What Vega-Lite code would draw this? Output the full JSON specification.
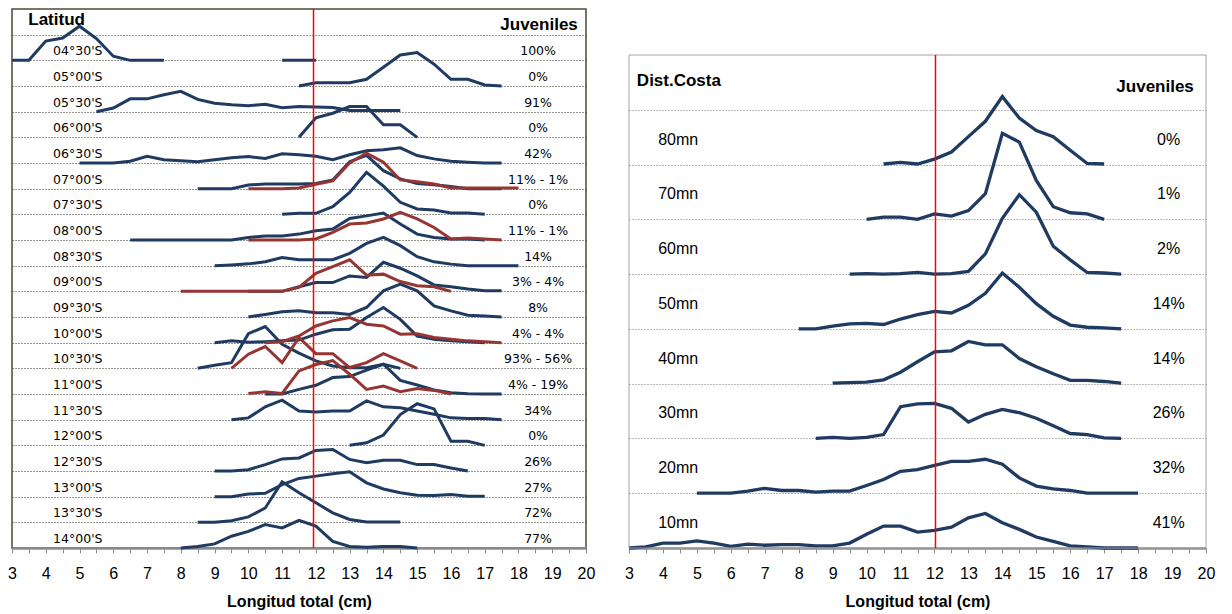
{
"$schema": "https://vega.github.io/schema/vega-lite/v6.json",
"background": "white",
"padding": {"left": 5, "top": 7, "right": 5, "bottom": 5},
"spacing": 43,
"bounds": "flush",
"config": {
 "view": {"stroke": null},
 "font": "Liberation Sans",
 "axisX": {"domainColor": "#8c8c8c", "domainWidth": 2.5, "tickColor": "#8c8c8c", "tickSize": 5, "tickWidth": 1, "labelFontSize": 16, "labelColor": "#000000", "labelPadding": 12, "labelFlush": false, "labelOverlap": false, "labelBound": false, "titleFontSize": 16, "titleFontWeight": "bold", "titleColor": "#000000", "titlePadding": 12, "grid": false, "zindex": 1}
},
"datasets": {
 "L": [
  {"s":"04°30'S","t":"b","x":3,"y":19},{"s":"04°30'S","t":"b","x":3.5,"y":19},{"s":"04°30'S","t":"b","x":4,"y":19.75},{"s":"04°30'S","t":"b","x":4.5,"y":19.87},{"s":"04°30'S","t":"b","x":5,"y":20.33},{"s":"04°30'S","t":"b","x":5.5,"y":19.85},{"s":"04°30'S","t":"b","x":6,"y":19.16},{"s":"04°30'S","t":"b","x":6.5,"y":19},{"s":"04°30'S","t":"b","x":7,"y":19},{"s":"04°30'S","t":"b","x":7.5,"y":19},
  {"s":"04°30'S-2","t":"b","x":11,"y":19},{"s":"04°30'S-2","t":"b","x":11.5,"y":19},{"s":"04°30'S-2","t":"b","x":12,"y":19},
  {"s":"05°00'S","t":"b","x":11.5,"y":18},{"s":"05°00'S","t":"b","x":12,"y":18.13},{"s":"05°00'S","t":"b","x":12.5,"y":18.13},{"s":"05°00'S","t":"b","x":13,"y":18.13},{"s":"05°00'S","t":"b","x":13.5,"y":18.26},{"s":"05°00'S","t":"b","x":14,"y":18.73},{"s":"05°00'S","t":"b","x":14.5,"y":19.21},{"s":"05°00'S","t":"b","x":15,"y":19.3},{"s":"05°00'S","t":"b","x":15.5,"y":18.85},{"s":"05°00'S","t":"b","x":16,"y":18.26},{"s":"05°00'S","t":"b","x":16.5,"y":18.26},{"s":"05°00'S","t":"b","x":17,"y":18.04},{"s":"05°00'S","t":"b","x":17.5,"y":18},
  {"s":"05°30'S","t":"b","x":5.5,"y":17},{"s":"05°30'S","t":"b","x":6,"y":17.14},{"s":"05°30'S","t":"b","x":6.5,"y":17.5},{"s":"05°30'S","t":"b","x":7,"y":17.5},{"s":"05°30'S","t":"b","x":7.5,"y":17.66},{"s":"05°30'S","t":"b","x":8,"y":17.79},{"s":"05°30'S","t":"b","x":8.5,"y":17.48},{"s":"05°30'S","t":"b","x":9,"y":17.33},{"s":"05°30'S","t":"b","x":9.5,"y":17.27},{"s":"05°30'S","t":"b","x":10,"y":17.23},{"s":"05°30'S","t":"b","x":10.5,"y":17.29},{"s":"05°30'S","t":"b","x":11,"y":17.15},{"s":"05°30'S","t":"b","x":11.5,"y":17.2},{"s":"05°30'S","t":"b","x":12,"y":17.18},{"s":"05°30'S","t":"b","x":12.5,"y":17.16},{"s":"05°30'S","t":"b","x":13,"y":17.05},{"s":"05°30'S","t":"b","x":13.5,"y":17.05},{"s":"05°30'S","t":"b","x":14,"y":17.05},{"s":"05°30'S","t":"b","x":14.5,"y":17.05},
  {"s":"06°00'S","t":"b","x":11.5,"y":16},{"s":"06°00'S","t":"b","x":12,"y":16.76},{"s":"06°00'S","t":"b","x":12.5,"y":16.94},{"s":"06°00'S","t":"b","x":13,"y":17.2},{"s":"06°00'S","t":"b","x":13.5,"y":17.2},{"s":"06°00'S","t":"b","x":14,"y":16.49},{"s":"06°00'S","t":"b","x":14.5,"y":16.49},{"s":"06°00'S","t":"b","x":15,"y":16},
  {"s":"06°30'S","t":"b","x":5,"y":15},{"s":"06°30'S","t":"b","x":5.5,"y":15},{"s":"06°30'S","t":"b","x":6,"y":15},{"s":"06°30'S","t":"b","x":6.5,"y":15.07},{"s":"06°30'S","t":"b","x":7,"y":15.26},{"s":"06°30'S","t":"b","x":7.5,"y":15.13},{"s":"06°30'S","t":"b","x":8,"y":15.09},{"s":"06°30'S","t":"b","x":8.5,"y":15.05},{"s":"06°30'S","t":"b","x":9,"y":15.13},{"s":"06°30'S","t":"b","x":9.5,"y":15.2},{"s":"06°30'S","t":"b","x":10,"y":15.25},{"s":"06°30'S","t":"b","x":10.5,"y":15.18},{"s":"06°30'S","t":"b","x":11,"y":15.36},{"s":"06°30'S","t":"b","x":11.5,"y":15.32},{"s":"06°30'S","t":"b","x":12,"y":15.26},{"s":"06°30'S","t":"b","x":12.5,"y":15.13},{"s":"06°30'S","t":"b","x":13,"y":15.32},{"s":"06°30'S","t":"b","x":13.5,"y":15.48},{"s":"06°30'S","t":"b","x":14,"y":15.52},{"s":"06°30'S","t":"b","x":14.5,"y":15.59},{"s":"06°30'S","t":"b","x":15,"y":15.29},{"s":"06°30'S","t":"b","x":15.5,"y":15.16},{"s":"06°30'S","t":"b","x":16,"y":15.07},{"s":"06°30'S","t":"b","x":16.5,"y":15.03},{"s":"06°30'S","t":"b","x":17,"y":15},{"s":"06°30'S","t":"b","x":17.5,"y":15},
  {"s":"07°00'S","t":"b","x":8.5,"y":14},{"s":"07°00'S","t":"b","x":9,"y":14},{"s":"07°00'S","t":"b","x":9.5,"y":14},{"s":"07°00'S","t":"b","x":10,"y":14.14},{"s":"07°00'S","t":"b","x":10.5,"y":14.18},{"s":"07°00'S","t":"b","x":11,"y":14.18},{"s":"07°00'S","t":"b","x":11.5,"y":14.18},{"s":"07°00'S","t":"b","x":12,"y":14.2},{"s":"07°00'S","t":"b","x":12.5,"y":14.34},{"s":"07°00'S","t":"b","x":13,"y":15.05},{"s":"07°00'S","t":"b","x":13.5,"y":15.3},{"s":"07°00'S","t":"b","x":14,"y":14.7},{"s":"07°00'S","t":"b","x":14.5,"y":14.38},{"s":"07°00'S","t":"b","x":15,"y":14.2},{"s":"07°00'S","t":"b","x":15.5,"y":14.15},{"s":"07°00'S","t":"b","x":16,"y":14.08},{"s":"07°00'S","t":"b","x":16.5,"y":14},{"s":"07°00'S","t":"b","x":17,"y":14},{"s":"07°00'S","t":"b","x":17.5,"y":14},
  {"s":"07°30'S","t":"b","x":11,"y":13},{"s":"07°30'S","t":"b","x":11.5,"y":13.04},{"s":"07°30'S","t":"b","x":12,"y":13.04},{"s":"07°30'S","t":"b","x":12.5,"y":13.3},{"s":"07°30'S","t":"b","x":13,"y":13.85},{"s":"07°30'S","t":"b","x":13.5,"y":14.64},{"s":"07°30'S","t":"b","x":14,"y":14.1},{"s":"07°30'S","t":"b","x":14.5,"y":13.47},{"s":"07°30'S","t":"b","x":15,"y":13.21},{"s":"07°30'S","t":"b","x":15.5,"y":13.17},{"s":"07°30'S","t":"b","x":16,"y":13.05},{"s":"07°30'S","t":"b","x":16.5,"y":13.05},{"s":"07°30'S","t":"b","x":17,"y":13},
  {"s":"08°00'S","t":"b","x":6.5,"y":12},{"s":"08°00'S","t":"b","x":7,"y":12},{"s":"08°00'S","t":"b","x":7.5,"y":12},{"s":"08°00'S","t":"b","x":8,"y":12},{"s":"08°00'S","t":"b","x":8.5,"y":12},{"s":"08°00'S","t":"b","x":9,"y":12},{"s":"08°00'S","t":"b","x":9.5,"y":12},{"s":"08°00'S","t":"b","x":10,"y":12.1},{"s":"08°00'S","t":"b","x":10.5,"y":12.16},{"s":"08°00'S","t":"b","x":11,"y":12.16},{"s":"08°00'S","t":"b","x":11.5,"y":12.23},{"s":"08°00'S","t":"b","x":12,"y":12.36},{"s":"08°00'S","t":"b","x":12.5,"y":12.43},{"s":"08°00'S","t":"b","x":13,"y":12.84},{"s":"08°00'S","t":"b","x":13.5,"y":12.94},{"s":"08°00'S","t":"b","x":14,"y":13.05},{"s":"08°00'S","t":"b","x":14.5,"y":12.62},{"s":"08°00'S","t":"b","x":15,"y":12.23},{"s":"08°00'S","t":"b","x":15.5,"y":12.1},{"s":"08°00'S","t":"b","x":16,"y":12.04},{"s":"08°00'S","t":"b","x":16.5,"y":12.04},{"s":"08°00'S","t":"b","x":17,"y":12},
  {"s":"08°30'S","t":"b","x":9,"y":11},{"s":"08°30'S","t":"b","x":9.5,"y":11.03},{"s":"08°30'S","t":"b","x":10,"y":11.07},{"s":"08°30'S","t":"b","x":10.5,"y":11.15},{"s":"08°30'S","t":"b","x":11,"y":11.32},{"s":"08°30'S","t":"b","x":11.5,"y":11.23},{"s":"08°30'S","t":"b","x":12,"y":11.23},{"s":"08°30'S","t":"b","x":12.5,"y":11.23},{"s":"08°30'S","t":"b","x":13,"y":11.48},{"s":"08°30'S","t":"b","x":13.5,"y":11.87},{"s":"08°30'S","t":"b","x":14,"y":12.1},{"s":"08°30'S","t":"b","x":14.5,"y":11.78},{"s":"08°30'S","t":"b","x":15,"y":11.35},{"s":"08°30'S","t":"b","x":15.5,"y":11.15},{"s":"08°30'S","t":"b","x":16,"y":11.06},{"s":"08°30'S","t":"b","x":16.5,"y":11},{"s":"08°30'S","t":"b","x":17,"y":11},{"s":"08°30'S","t":"b","x":17.5,"y":11},{"s":"08°30'S","t":"b","x":18,"y":11},
  {"s":"09°00'S","t":"b","x":10,"y":10},{"s":"09°00'S","t":"b","x":10.5,"y":10},{"s":"09°00'S","t":"b","x":11,"y":10},{"s":"09°00'S","t":"b","x":11.5,"y":10.18},{"s":"09°00'S","t":"b","x":12,"y":10.34},{"s":"09°00'S","t":"b","x":12.5,"y":10.34},{"s":"09°00'S","t":"b","x":13,"y":10.6},{"s":"09°00'S","t":"b","x":13.5,"y":10.54},{"s":"09°00'S","t":"b","x":14,"y":11.13},{"s":"09°00'S","t":"b","x":14.5,"y":10.9},{"s":"09°00'S","t":"b","x":15,"y":10.6},{"s":"09°00'S","t":"b","x":15.5,"y":10.25},{"s":"09°00'S","t":"b","x":16,"y":10.18},{"s":"09°00'S","t":"b","x":16.5,"y":10.09},{"s":"09°00'S","t":"b","x":17,"y":10.02},{"s":"09°00'S","t":"b","x":17.5,"y":10.02},
  {"s":"09°30'S","t":"b","x":10,"y":9},{"s":"09°30'S","t":"b","x":10.5,"y":9.1},{"s":"09°30'S","t":"b","x":11,"y":9.2},{"s":"09°30'S","t":"b","x":11.5,"y":9.24},{"s":"09°30'S","t":"b","x":12,"y":9.17},{"s":"09°30'S","t":"b","x":12.5,"y":9.17},{"s":"09°30'S","t":"b","x":13,"y":9.1},{"s":"09°30'S","t":"b","x":13.5,"y":9.37},{"s":"09°30'S","t":"b","x":14,"y":10.02},{"s":"09°30'S","t":"b","x":14.5,"y":10.28},{"s":"09°30'S","t":"b","x":15,"y":10.02},{"s":"09°30'S","t":"b","x":15.5,"y":9.43},{"s":"09°30'S","t":"b","x":16,"y":9.24},{"s":"09°30'S","t":"b","x":16.5,"y":9.07},{"s":"09°30'S","t":"b","x":17,"y":9.04},{"s":"09°30'S","t":"b","x":17.5,"y":9},
  {"s":"10°00'S","t":"b","x":9,"y":8},{"s":"10°00'S","t":"b","x":9.5,"y":8.07},{"s":"10°00'S","t":"b","x":10,"y":8.02},{"s":"10°00'S","t":"b","x":10.5,"y":8.04},{"s":"10°00'S","t":"b","x":11,"y":8.07},{"s":"10°00'S","t":"b","x":11.5,"y":8.1},{"s":"10°00'S","t":"b","x":12,"y":8.33},{"s":"10°00'S","t":"b","x":12.5,"y":8.5},{"s":"10°00'S","t":"b","x":13,"y":8.52},{"s":"10°00'S","t":"b","x":13.5,"y":8.98},{"s":"10°00'S","t":"b","x":14,"y":9.37},{"s":"10°00'S","t":"b","x":14.5,"y":8.91},{"s":"10°00'S","t":"b","x":15,"y":8.26},{"s":"10°00'S","t":"b","x":15.5,"y":8.13},{"s":"10°00'S","t":"b","x":16,"y":8.07},{"s":"10°00'S","t":"b","x":16.5,"y":8.04},{"s":"10°00'S","t":"b","x":17,"y":8},
  {"s":"10°30'S","t":"b","x":8.5,"y":7},{"s":"10°30'S","t":"b","x":9,"y":7.12},{"s":"10°30'S","t":"b","x":9.5,"y":7.22},{"s":"10°30'S","t":"b","x":10,"y":8.35},{"s":"10°30'S","t":"b","x":10.5,"y":8.63},{"s":"10°30'S","t":"b","x":11,"y":7.94},{"s":"10°30'S","t":"b","x":11.5,"y":7.59},{"s":"10°30'S","t":"b","x":12,"y":7.29},{"s":"10°30'S","t":"b","x":12.5,"y":7.09},{"s":"10°30'S","t":"b","x":13,"y":7.02},{"s":"10°30'S","t":"b","x":13.5,"y":7.02},{"s":"10°30'S","t":"b","x":14,"y":7.16},{"s":"10°30'S","t":"b","x":14.5,"y":7},
  {"s":"11°00'S","t":"b","x":10.5,"y":6},{"s":"11°00'S","t":"b","x":11,"y":6},{"s":"11°00'S","t":"b","x":11.5,"y":6.18},{"s":"11°00'S","t":"b","x":12,"y":6.34},{"s":"11°00'S","t":"b","x":12.5,"y":6.64},{"s":"11°00'S","t":"b","x":13,"y":6.68},{"s":"11°00'S","t":"b","x":13.5,"y":6.93},{"s":"11°00'S","t":"b","x":14,"y":7.16},{"s":"11°00'S","t":"b","x":14.5,"y":6.53},{"s":"11°00'S","t":"b","x":15,"y":6.35},{"s":"11°00'S","t":"b","x":15.5,"y":6.16},{"s":"11°00'S","t":"b","x":16,"y":6.05},{"s":"11°00'S","t":"b","x":16.5,"y":6.01},{"s":"11°00'S","t":"b","x":17,"y":6},{"s":"11°00'S","t":"b","x":17.5,"y":6},
  {"s":"11°30'S","t":"b","x":9.5,"y":5},{"s":"11°30'S","t":"b","x":10,"y":5.07},{"s":"11°30'S","t":"b","x":10.5,"y":5.5},{"s":"11°30'S","t":"b","x":11,"y":5.76},{"s":"11°30'S","t":"b","x":11.5,"y":5.34},{"s":"11°30'S","t":"b","x":12,"y":5.3},{"s":"11°30'S","t":"b","x":12.5,"y":5.34},{"s":"11°30'S","t":"b","x":13,"y":5.34},{"s":"11°30'S","t":"b","x":13.5,"y":5.73},{"s":"11°30'S","t":"b","x":14,"y":5.5},{"s":"11°30'S","t":"b","x":14.5,"y":5.46},{"s":"11°30'S","t":"b","x":15,"y":5.34},{"s":"11°30'S","t":"b","x":15.5,"y":5.21},{"s":"11°30'S","t":"b","x":16,"y":5.07},{"s":"11°30'S","t":"b","x":16.5,"y":5.05},{"s":"11°30'S","t":"b","x":17,"y":5.05},{"s":"11°30'S","t":"b","x":17.5,"y":5},
  {"s":"12°00'S","t":"b","x":13,"y":4},{"s":"12°00'S","t":"b","x":13.5,"y":4.1},{"s":"12°00'S","t":"b","x":14,"y":4.4},{"s":"12°00'S","t":"b","x":14.5,"y":5.2},{"s":"12°00'S","t":"b","x":15,"y":5.62},{"s":"12°00'S","t":"b","x":15.5,"y":5.42},{"s":"12°00'S","t":"b","x":16,"y":4.16},{"s":"12°00'S","t":"b","x":16.5,"y":4.16},{"s":"12°00'S","t":"b","x":17,"y":4},
  {"s":"12°30'S","t":"b","x":9,"y":3},{"s":"12°30'S","t":"b","x":9.5,"y":3},{"s":"12°30'S","t":"b","x":10,"y":3.05},{"s":"12°30'S","t":"b","x":10.5,"y":3.25},{"s":"12°30'S","t":"b","x":11,"y":3.47},{"s":"12°30'S","t":"b","x":11.5,"y":3.51},{"s":"12°30'S","t":"b","x":12,"y":3.8},{"s":"12°30'S","t":"b","x":12.5,"y":3.84},{"s":"12°30'S","t":"b","x":13,"y":3.45},{"s":"12°30'S","t":"b","x":13.5,"y":3.32},{"s":"12°30'S","t":"b","x":14,"y":3.42},{"s":"12°30'S","t":"b","x":14.5,"y":3.42},{"s":"12°30'S","t":"b","x":15,"y":3.25},{"s":"12°30'S","t":"b","x":15.5,"y":3.25},{"s":"12°30'S","t":"b","x":16,"y":3.12},{"s":"12°30'S","t":"b","x":16.5,"y":3},
  {"s":"13°00'S","t":"b","x":9,"y":2},{"s":"13°00'S","t":"b","x":9.5,"y":2},{"s":"13°00'S","t":"b","x":10,"y":2.1},{"s":"13°00'S","t":"b","x":10.5,"y":2.13},{"s":"13°00'S","t":"b","x":11,"y":2.47},{"s":"13°00'S","t":"b","x":11.5,"y":2.71},{"s":"13°00'S","t":"b","x":12,"y":2.8},{"s":"13°00'S","t":"b","x":12.5,"y":2.89},{"s":"13°00'S","t":"b","x":13,"y":2.97},{"s":"13°00'S","t":"b","x":13.5,"y":2.54},{"s":"13°00'S","t":"b","x":14,"y":2.3},{"s":"13°00'S","t":"b","x":14.5,"y":2.15},{"s":"13°00'S","t":"b","x":15,"y":2.06},{"s":"13°00'S","t":"b","x":15.5,"y":2.05},{"s":"13°00'S","t":"b","x":16,"y":2.08},{"s":"13°00'S","t":"b","x":16.5,"y":2.02},{"s":"13°00'S","t":"b","x":17,"y":2.02},
  {"s":"13°30'S","t":"b","x":8.5,"y":1},{"s":"13°30'S","t":"b","x":9,"y":1},{"s":"13°30'S","t":"b","x":9.5,"y":1.06},{"s":"13°30'S","t":"b","x":10,"y":1.21},{"s":"13°30'S","t":"b","x":10.5,"y":1.56},{"s":"13°30'S","t":"b","x":11,"y":2.58},{"s":"13°30'S","t":"b","x":11.5,"y":2.15},{"s":"13°30'S","t":"b","x":12,"y":1.76},{"s":"13°30'S","t":"b","x":12.5,"y":1.37},{"s":"13°30'S","t":"b","x":13,"y":1.11},{"s":"13°30'S","t":"b","x":13.5,"y":1.01},{"s":"13°30'S","t":"b","x":14,"y":1.01},{"s":"13°30'S","t":"b","x":14.5,"y":1.01},
  {"s":"14°00'S","t":"b","x":8,"y":0},{"s":"14°00'S","t":"b","x":8.5,"y":0.06},{"s":"14°00'S","t":"b","x":9,"y":0.16},{"s":"14°00'S","t":"b","x":9.5,"y":0.46},{"s":"14°00'S","t":"b","x":10,"y":0.65},{"s":"14°00'S","t":"b","x":10.5,"y":0.91},{"s":"14°00'S","t":"b","x":11,"y":0.78},{"s":"14°00'S","t":"b","x":11.5,"y":1.08},{"s":"14°00'S","t":"b","x":12,"y":0.85},{"s":"14°00'S","t":"b","x":12.5,"y":0.26},{"s":"14°00'S","t":"b","x":13,"y":0.06},{"s":"14°00'S","t":"b","x":13.5,"y":0.03},{"s":"14°00'S","t":"b","x":14,"y":0.06},{"s":"14°00'S","t":"b","x":14.5,"y":0.06},{"s":"14°00'S","t":"b","x":15,"y":0},
  {"s":"07°00'S-r","t":"r","x":10,"y":14},{"s":"07°00'S-r","t":"r","x":10.5,"y":14},{"s":"07°00'S-r","t":"r","x":11,"y":14},{"s":"07°00'S-r","t":"r","x":11.5,"y":14.03},{"s":"07°00'S-r","t":"r","x":12,"y":14.17},{"s":"07°00'S-r","t":"r","x":12.5,"y":14.3},{"s":"07°00'S-r","t":"r","x":13,"y":15},{"s":"07°00'S-r","t":"r","x":13.5,"y":15.38},{"s":"07°00'S-r","t":"r","x":14,"y":15.03},{"s":"07°00'S-r","t":"r","x":14.5,"y":14.34},{"s":"07°00'S-r","t":"r","x":15,"y":14.27},{"s":"07°00'S-r","t":"r","x":15.5,"y":14.18},{"s":"07°00'S-r","t":"r","x":16,"y":14.03},{"s":"07°00'S-r","t":"r","x":16.5,"y":14.03},{"s":"07°00'S-r","t":"r","x":17,"y":14.03},{"s":"07°00'S-r","t":"r","x":17.5,"y":14.03},{"s":"07°00'S-r","t":"r","x":18,"y":14.03},
  {"s":"08°00'S-r","t":"r","x":10,"y":12},{"s":"08°00'S-r","t":"r","x":10.5,"y":12},{"s":"08°00'S-r","t":"r","x":11,"y":12},{"s":"08°00'S-r","t":"r","x":11.5,"y":12},{"s":"08°00'S-r","t":"r","x":12,"y":12.04},{"s":"08°00'S-r","t":"r","x":12.5,"y":12.3},{"s":"08°00'S-r","t":"r","x":13,"y":12.62},{"s":"08°00'S-r","t":"r","x":13.5,"y":12.66},{"s":"08°00'S-r","t":"r","x":14,"y":12.82},{"s":"08°00'S-r","t":"r","x":14.5,"y":13.08},{"s":"08°00'S-r","t":"r","x":15,"y":12.82},{"s":"08°00'S-r","t":"r","x":15.5,"y":12.49},{"s":"08°00'S-r","t":"r","x":16,"y":12.04},{"s":"08°00'S-r","t":"r","x":16.5,"y":12.08},{"s":"08°00'S-r","t":"r","x":17,"y":12.04},{"s":"08°00'S-r","t":"r","x":17.5,"y":12},
  {"s":"09°00'S-r","t":"r","x":8,"y":10},{"s":"09°00'S-r","t":"r","x":8.5,"y":10},{"s":"09°00'S-r","t":"r","x":9,"y":10},{"s":"09°00'S-r","t":"r","x":9.5,"y":10},{"s":"09°00'S-r","t":"r","x":10,"y":10},{"s":"09°00'S-r","t":"r","x":10.5,"y":10},{"s":"09°00'S-r","t":"r","x":11,"y":10},{"s":"09°00'S-r","t":"r","x":11.5,"y":10.15},{"s":"09°00'S-r","t":"r","x":12,"y":10.7},{"s":"09°00'S-r","t":"r","x":12.5,"y":10.96},{"s":"09°00'S-r","t":"r","x":13,"y":11.23},{"s":"09°00'S-r","t":"r","x":13.5,"y":10.63},{"s":"09°00'S-r","t":"r","x":14,"y":10.67},{"s":"09°00'S-r","t":"r","x":14.5,"y":10.38},{"s":"09°00'S-r","t":"r","x":15,"y":10.22},{"s":"09°00'S-r","t":"r","x":15.5,"y":10.18},{"s":"09°00'S-r","t":"r","x":16,"y":10},
  {"s":"10°00'S-r","t":"r","x":10.5,"y":8},{"s":"10°00'S-r","t":"r","x":11,"y":8.04},{"s":"10°00'S-r","t":"r","x":11.5,"y":8.26},{"s":"10°00'S-r","t":"r","x":12,"y":8.65},{"s":"10°00'S-r","t":"r","x":12.5,"y":8.85},{"s":"10°00'S-r","t":"r","x":13,"y":8.98},{"s":"10°00'S-r","t":"r","x":13.5,"y":8.72},{"s":"10°00'S-r","t":"r","x":14,"y":8.65},{"s":"10°00'S-r","t":"r","x":14.5,"y":8.33},{"s":"10°00'S-r","t":"r","x":15,"y":8.35},{"s":"10°00'S-r","t":"r","x":15.5,"y":8.2},{"s":"10°00'S-r","t":"r","x":16,"y":8.13},{"s":"10°00'S-r","t":"r","x":16.5,"y":8.07},{"s":"10°00'S-r","t":"r","x":17,"y":8.04},{"s":"10°00'S-r","t":"r","x":17.5,"y":8},
  {"s":"10°30'S-r","t":"r","x":9.5,"y":7},{"s":"10°30'S-r","t":"r","x":10,"y":7.55},{"s":"10°30'S-r","t":"r","x":10.5,"y":7.85},{"s":"10°30'S-r","t":"r","x":11,"y":7.22},{"s":"10°30'S-r","t":"r","x":11.5,"y":8.2},{"s":"10°30'S-r","t":"r","x":12,"y":7.57},{"s":"10°30'S-r","t":"r","x":12.5,"y":7.57},{"s":"10°30'S-r","t":"r","x":13,"y":7.03},{"s":"10°30'S-r","t":"r","x":13.5,"y":7.22},{"s":"10°30'S-r","t":"r","x":14,"y":7.57},{"s":"10°30'S-r","t":"r","x":14.5,"y":7.29},{"s":"10°30'S-r","t":"r","x":15,"y":7},
  {"s":"11°00'S-r","t":"r","x":10,"y":6.02},{"s":"11°00'S-r","t":"r","x":10.5,"y":6.09},{"s":"11°00'S-r","t":"r","x":11,"y":6.02},{"s":"11°00'S-r","t":"r","x":11.5,"y":6.9},{"s":"11°00'S-r","t":"r","x":12,"y":7.15},{"s":"11°00'S-r","t":"r","x":12.5,"y":7.3},{"s":"11°00'S-r","t":"r","x":13,"y":6.77},{"s":"11°00'S-r","t":"r","x":13.5,"y":6.18},{"s":"11°00'S-r","t":"r","x":14,"y":6.31},{"s":"11°00'S-r","t":"r","x":14.5,"y":6.09},{"s":"11°00'S-r","t":"r","x":15,"y":6.21},{"s":"11°00'S-r","t":"r","x":15.5,"y":6.14},{"s":"11°00'S-r","t":"r","x":16,"y":6}
 ],
 "LL": [
  {"row":19,"lab":"04°30'S","juv":"100%"},{"row":18,"lab":"05°00'S","juv":"0%"},{"row":17,"lab":"05°30'S","juv":"91%"},{"row":16,"lab":"06°00'S","juv":"0%"},{"row":15,"lab":"06°30'S","juv":"42%"},{"row":14,"lab":"07°00'S","juv":"11% - 1%"},{"row":13,"lab":"07°30'S","juv":"0%"},{"row":12,"lab":"08°00'S","juv":"11% - 1%"},{"row":11,"lab":"08°30'S","juv":"14%"},{"row":10,"lab":"09°00'S","juv":"3% - 4%"},{"row":9,"lab":"09°30'S","juv":"8%"},{"row":8,"lab":"10°00'S","juv":"4% - 4%"},{"row":7,"lab":"10°30'S","juv":"93% - 56%"},{"row":6,"lab":"11°00'S","juv":"4% - 19%"},{"row":5,"lab":"11°30'S","juv":"34%"},{"row":4,"lab":"12°00'S","juv":"0%"},{"row":3,"lab":"12°30'S","juv":"26%"},{"row":2,"lab":"13°00'S","juv":"27%"},{"row":1,"lab":"13°30'S","juv":"72%"},{"row":0,"lab":"14°00'S","juv":"77%"}
 ],
 "R": [
  {"s":"80mn","x":10.5,"y":7.01},{"s":"80mn","x":11,"y":7.04},{"s":"80mn","x":11.5,"y":7.01},{"s":"80mn","x":12,"y":7.1},{"s":"80mn","x":12.5,"y":7.23},{"s":"80mn","x":13,"y":7.51},{"s":"80mn","x":13.5,"y":7.79},{"s":"80mn","x":14,"y":8.24},{"s":"80mn","x":14.5,"y":7.85},{"s":"80mn","x":15,"y":7.62},{"s":"80mn","x":15.5,"y":7.51},{"s":"80mn","x":16,"y":7.26},{"s":"80mn","x":16.5,"y":7.02},{"s":"80mn","x":17,"y":7.01},
  {"s":"70mn","x":10,"y":6},{"s":"70mn","x":10.5,"y":6.04},{"s":"70mn","x":11,"y":6.04},{"s":"70mn","x":11.5,"y":6},{"s":"70mn","x":12,"y":6.1},{"s":"70mn","x":12.5,"y":6.06},{"s":"70mn","x":13,"y":6.16},{"s":"70mn","x":13.5,"y":6.47},{"s":"70mn","x":14,"y":7.57},{"s":"70mn","x":14.5,"y":7.41},{"s":"70mn","x":15,"y":6.71},{"s":"70mn","x":15.5,"y":6.23},{"s":"70mn","x":16,"y":6.12},{"s":"70mn","x":16.5,"y":6.1},{"s":"70mn","x":17,"y":6},
  {"s":"60mn","x":9.5,"y":5},{"s":"60mn","x":10,"y":5.01},{"s":"60mn","x":10.5,"y":5},{"s":"60mn","x":11,"y":5.01},{"s":"60mn","x":11.5,"y":5.03},{"s":"60mn","x":12,"y":5},{"s":"60mn","x":12.5,"y":5.01},{"s":"60mn","x":13,"y":5.05},{"s":"60mn","x":13.5,"y":5.37},{"s":"60mn","x":14,"y":6.02},{"s":"60mn","x":14.5,"y":6.45},{"s":"60mn","x":15,"y":6.13},{"s":"60mn","x":15.5,"y":5.51},{"s":"60mn","x":16,"y":5.26},{"s":"60mn","x":16.5,"y":5.03},{"s":"60mn","x":17,"y":5.02},{"s":"60mn","x":17.5,"y":5},
  {"s":"50mn","x":8,"y":4},{"s":"50mn","x":8.5,"y":4},{"s":"50mn","x":9,"y":4.05},{"s":"50mn","x":9.5,"y":4.09},{"s":"50mn","x":10,"y":4.1},{"s":"50mn","x":10.5,"y":4.08},{"s":"50mn","x":11,"y":4.18},{"s":"50mn","x":11.5,"y":4.26},{"s":"50mn","x":12,"y":4.32},{"s":"50mn","x":12.5,"y":4.29},{"s":"50mn","x":13,"y":4.43},{"s":"50mn","x":13.5,"y":4.65},{"s":"50mn","x":14,"y":5.02},{"s":"50mn","x":14.5,"y":4.76},{"s":"50mn","x":15,"y":4.46},{"s":"50mn","x":15.5,"y":4.23},{"s":"50mn","x":16,"y":4.07},{"s":"50mn","x":16.5,"y":4.03},{"s":"50mn","x":17,"y":4.02},{"s":"50mn","x":17.5,"y":4},
  {"s":"40mn","x":9,"y":3.01},{"s":"40mn","x":9.5,"y":3.02},{"s":"40mn","x":10,"y":3.03},{"s":"40mn","x":10.5,"y":3.07},{"s":"40mn","x":11,"y":3.21},{"s":"40mn","x":11.5,"y":3.4},{"s":"40mn","x":12,"y":3.58},{"s":"40mn","x":12.5,"y":3.6},{"s":"40mn","x":13,"y":3.77},{"s":"40mn","x":13.5,"y":3.71},{"s":"40mn","x":14,"y":3.71},{"s":"40mn","x":14.5,"y":3.46},{"s":"40mn","x":15,"y":3.31},{"s":"40mn","x":15.5,"y":3.18},{"s":"40mn","x":16,"y":3.06},{"s":"40mn","x":16.5,"y":3.06},{"s":"40mn","x":17,"y":3.04},{"s":"40mn","x":17.5,"y":3.01},
  {"s":"30mn","x":8.5,"y":2},{"s":"30mn","x":9,"y":2.02},{"s":"30mn","x":9.5,"y":2},{"s":"30mn","x":10,"y":2.02},{"s":"30mn","x":10.5,"y":2.07},{"s":"30mn","x":11,"y":2.58},{"s":"30mn","x":11.5,"y":2.63},{"s":"30mn","x":12,"y":2.64},{"s":"30mn","x":12.5,"y":2.55},{"s":"30mn","x":13,"y":2.3},{"s":"30mn","x":13.5,"y":2.44},{"s":"30mn","x":14,"y":2.53},{"s":"30mn","x":14.5,"y":2.47},{"s":"30mn","x":15,"y":2.37},{"s":"30mn","x":15.5,"y":2.23},{"s":"30mn","x":16,"y":2.09},{"s":"30mn","x":16.5,"y":2.07},{"s":"30mn","x":17,"y":2.01},{"s":"30mn","x":17.5,"y":2},
  {"s":"20mn","x":5,"y":1},{"s":"20mn","x":5.5,"y":1},{"s":"20mn","x":6,"y":1},{"s":"20mn","x":6.5,"y":1.04},{"s":"20mn","x":7,"y":1.09},{"s":"20mn","x":7.5,"y":1.05},{"s":"20mn","x":8,"y":1.05},{"s":"20mn","x":8.5,"y":1.02},{"s":"20mn","x":9,"y":1.04},{"s":"20mn","x":9.5,"y":1.04},{"s":"20mn","x":10,"y":1.14},{"s":"20mn","x":10.5,"y":1.25},{"s":"20mn","x":11,"y":1.4},{"s":"20mn","x":11.5,"y":1.43},{"s":"20mn","x":12,"y":1.51},{"s":"20mn","x":12.5,"y":1.58},{"s":"20mn","x":13,"y":1.58},{"s":"20mn","x":13.5,"y":1.62},{"s":"20mn","x":14,"y":1.53},{"s":"20mn","x":14.5,"y":1.28},{"s":"20mn","x":15,"y":1.13},{"s":"20mn","x":15.5,"y":1.08},{"s":"20mn","x":16,"y":1.05},{"s":"20mn","x":16.5,"y":1},{"s":"20mn","x":17,"y":1},{"s":"20mn","x":17.5,"y":1},{"s":"20mn","x":18,"y":1},
  {"s":"10mn","x":3,"y":0},{"s":"10mn","x":3.5,"y":0.02},{"s":"10mn","x":4,"y":0.09},{"s":"10mn","x":4.5,"y":0.09},{"s":"10mn","x":5,"y":0.13},{"s":"10mn","x":5.5,"y":0.09},{"s":"10mn","x":6,"y":0.03},{"s":"10mn","x":6.5,"y":0.07},{"s":"10mn","x":7,"y":0.05},{"s":"10mn","x":7.5,"y":0.06},{"s":"10mn","x":8,"y":0.06},{"s":"10mn","x":8.5,"y":0.04},{"s":"10mn","x":9,"y":0.04},{"s":"10mn","x":9.5,"y":0.09},{"s":"10mn","x":10,"y":0.25},{"s":"10mn","x":10.5,"y":0.4},{"s":"10mn","x":11,"y":0.4},{"s":"10mn","x":11.5,"y":0.29},{"s":"10mn","x":12,"y":0.32},{"s":"10mn","x":12.5,"y":0.38},{"s":"10mn","x":13,"y":0.55},{"s":"10mn","x":13.5,"y":0.63},{"s":"10mn","x":14,"y":0.46},{"s":"10mn","x":14.5,"y":0.34},{"s":"10mn","x":15,"y":0.2},{"s":"10mn","x":15.5,"y":0.12},{"s":"10mn","x":16,"y":0.04},{"s":"10mn","x":16.5,"y":0.02},{"s":"10mn","x":17,"y":0},{"s":"10mn","x":17.5,"y":0},{"s":"10mn","x":18,"y":0}
 ],
 "RL": [
  {"row":7,"lab":"80mn","juv":"0%"},{"row":6,"lab":"70mn","juv":"1%"},{"row":5,"lab":"60mn","juv":"2%"},{"row":4,"lab":"50mn","juv":"14%"},{"row":3,"lab":"40mn","juv":"14%"},{"row":2,"lab":"30mn","juv":"26%"},{"row":1,"lab":"20mn","juv":"32%"},{"row":0,"lab":"10mn","juv":"41%"}
 ]
},
"hconcat": [
 {
  "width": 574,
  "height": 539,
  "view": {"stroke": "#4f4b3a", "strokeWidth": 1.5},
  "layer": [
   {
    "data": {"name": "L"},
    "mark": {"type": "line", "strokeWidth": 3},
    "encoding": {
     "x": {"field": "x", "type": "quantitative", "scale": {"domain": [3, 20], "nice": false, "zero": false},
       "axis": {"title": "Longitud total (cm)", "values": [3,3.5,4,4.5,5,5.5,6,6.5,7,7.5,8,8.5,9,9.5,10,10.5,11,11.5,12,12.5,13,13.5,14,14.5,15,15.5,16,16.5,17,17.5,18,18.5,19,19.5,20], "labelExpr": "datum.value % 1 === 0 ? format(datum.value, 'd') : ''", "labelOverlap": false}},
     "y": {"field": "y", "type": "quantitative", "scale": {"domain": [0, 21], "nice": false, "zero": false},
       "axis": {"title": null, "grid": true, "values": [0,1,2,3,4,5,6,7,8,9,10,11,12,13,14,15,16,17,18,19,20], "gridColor": "#2e2c22", "gridDash": [1, 2], "gridWidth": 1, "labels": false, "ticks": false, "domain": false}},
     "color": {"field": "t", "type": "nominal", "scale": {"domain": ["b", "r"], "range": ["#1f3b61", "#963634"]}, "legend": null},
     "detail": {"field": "s"}
    }
   },
   {
    "data": {"values": [{}]},
    "mark": {"type": "rule", "stroke": "#ff0000", "strokeWidth": 1.5},
    "encoding": {
     "x": {"datum": 11.93, "type": "quantitative", "scale": {"domain": [3, 20], "nice": false, "zero": false},
       "axis": {"title": "Longitud total (cm)", "values": [3,3.5,4,4.5,5,5.5,6,6.5,7,7.5,8,8.5,9,9.5,10,10.5,11,11.5,12,12.5,13,13.5,14,14.5,15,15.5,16,16.5,17,17.5,18,18.5,19,19.5,20], "labelExpr": "datum.value % 1 === 0 ? format(datum.value, 'd') : ''", "labelOverlap": false}},
     "y": {"datum": 0, "type": "quantitative", "scale": {"domain": [0, 21], "nice": false, "zero": false},
       "axis": {"title": null, "grid": true, "values": [0,1,2,3,4,5,6,7,8,9,10,11,12,13,14,15,16,17,18,19,20], "gridColor": "#2e2c22", "gridDash": [1, 2], "gridWidth": 1, "labels": false, "ticks": false, "domain": false}},
     "y2": {"datum": 21}
    }
   },
   {
    "data": {"name": "LL"},
    "mark": {"type": "text", "font": "DejaVu Sans", "fontSize": 12.5, "baseline": "middle", "align": "center", "dy": -9, "color": "#000000"},
    "encoding": {
     "x": {"datum": 4.95, "type": "quantitative", "scale": {"domain": [3, 20], "nice": false, "zero": false},
       "axis": {"title": "Longitud total (cm)", "values": [3,3.5,4,4.5,5,5.5,6,6.5,7,7.5,8,8.5,9,9.5,10,10.5,11,11.5,12,12.5,13,13.5,14,14.5,15,15.5,16,16.5,17,17.5,18,18.5,19,19.5,20], "labelExpr": "datum.value % 1 === 0 ? format(datum.value, 'd') : ''", "labelOverlap": false}},
     "y": {"field": "row", "type": "quantitative", "scale": {"domain": [0, 21], "nice": false, "zero": false},
       "axis": {"title": null, "grid": true, "values": [0,1,2,3,4,5,6,7,8,9,10,11,12,13,14,15,16,17,18,19,20], "gridColor": "#2e2c22", "gridDash": [1, 2], "gridWidth": 1, "labels": false, "ticks": false, "domain": false}},
     "text": {"field": "lab"}
    }
   },
   {
    "data": {"name": "LL"},
    "mark": {"type": "text", "font": "DejaVu Sans", "fontSize": 12.5, "baseline": "middle", "align": "center", "dy": -9, "color": "#000000"},
    "encoding": {
     "x": {"datum": 18.58, "type": "quantitative", "scale": {"domain": [3, 20], "nice": false, "zero": false},
       "axis": {"title": "Longitud total (cm)", "values": [3,3.5,4,4.5,5,5.5,6,6.5,7,7.5,8,8.5,9,9.5,10,10.5,11,11.5,12,12.5,13,13.5,14,14.5,15,15.5,16,16.5,17,17.5,18,18.5,19,19.5,20], "labelExpr": "datum.value % 1 === 0 ? format(datum.value, 'd') : ''", "labelOverlap": false}},
     "y": {"field": "row", "type": "quantitative", "scale": {"domain": [0, 21], "nice": false, "zero": false},
       "axis": {"title": null, "grid": true, "values": [0,1,2,3,4,5,6,7,8,9,10,11,12,13,14,15,16,17,18,19,20], "gridColor": "#2e2c22", "gridDash": [1, 2], "gridWidth": 1, "labels": false, "ticks": false, "domain": false}},
     "text": {"field": "juv"}
    }
   },
   {
    "data": {"values": [{}]},
    "mark": {"type": "text", "text": "Latitud", "fontSize": 17, "fontWeight": "bold", "baseline": "middle", "align": "center", "color": "#000000"},
    "encoding": {
     "x": {"datum": 4.32, "type": "quantitative", "scale": {"domain": [3, 20], "nice": false, "zero": false},
       "axis": {"title": "Longitud total (cm)", "values": [3,3.5,4,4.5,5,5.5,6,6.5,7,7.5,8,8.5,9,9.5,10,10.5,11,11.5,12,12.5,13,13.5,14,14.5,15,15.5,16,16.5,17,17.5,18,18.5,19,19.5,20], "labelExpr": "datum.value % 1 === 0 ? format(datum.value, 'd') : ''", "labelOverlap": false}},
     "y": {"datum": 20.56, "type": "quantitative", "scale": {"domain": [0, 21], "nice": false, "zero": false},
       "axis": {"title": null, "grid": true, "values": [0,1,2,3,4,5,6,7,8,9,10,11,12,13,14,15,16,17,18,19,20], "gridColor": "#2e2c22", "gridDash": [1, 2], "gridWidth": 1, "labels": false, "ticks": false, "domain": false}}
    }
   },
   {
    "data": {"values": [{}]},
    "mark": {"type": "text", "text": "Juveniles", "fontSize": 17, "fontWeight": "bold", "baseline": "middle", "align": "center", "color": "#000000"},
    "encoding": {
     "x": {"datum": 18.61, "type": "quantitative", "scale": {"domain": [3, 20], "nice": false, "zero": false},
       "axis": {"title": "Longitud total (cm)", "values": [3,3.5,4,4.5,5,5.5,6,6.5,7,7.5,8,8.5,9,9.5,10,10.5,11,11.5,12,12.5,13,13.5,14,14.5,15,15.5,16,16.5,17,17.5,18,18.5,19,19.5,20], "labelExpr": "datum.value % 1 === 0 ? format(datum.value, 'd') : ''", "labelOverlap": false}},
     "y": {"datum": 20.39, "type": "quantitative", "scale": {"domain": [0, 21], "nice": false, "zero": false},
       "axis": {"title": null, "grid": true, "values": [0,1,2,3,4,5,6,7,8,9,10,11,12,13,14,15,16,17,18,19,20], "gridColor": "#2e2c22", "gridDash": [1, 2], "gridWidth": 1, "labels": false, "ticks": false, "domain": false}}
    }
   }
  ]
 },
 {
  "width": 577,
  "height": 539,
  "layer": [
   {
    "data": {"name": "R"},
    "mark": {"type": "line", "strokeWidth": 3.3, "color": "#1f3b61"},
    "encoding": {
     "x": {"field": "x", "type": "quantitative", "scale": {"domain": [3, 20], "nice": false, "zero": false},
       "axis": {"title": "Longitud total (cm)", "values": [3,3.5,4,4.5,5,5.5,6,6.5,7,7.5,8,8.5,9,9.5,10,10.5,11,11.5,12,12.5,13,13.5,14,14.5,15,15.5,16,16.5,17,17.5,18,18.5,19,19.5,20], "labelExpr": "datum.value % 1 === 0 ? format(datum.value, 'd') : ''", "labelOverlap": false}},
     "y": {"field": "y", "type": "quantitative", "scale": {"domain": [0, 9.84], "nice": false, "zero": false},
       "axis": {"title": null, "grid": true, "values": [1,2,3,4,5,6,7,8], "gridColor": "#777777", "gridDash": [1, 2], "gridWidth": 1, "labels": false, "ticks": false, "domain": false}},
     "detail": {"field": "s"}
    }
   },
   {
    "data": {"values": [{}]},
    "mark": {"type": "rect", "fillOpacity": 0, "stroke": "#a3a3a3", "strokeWidth": 1},
    "encoding": {
     "x": {"datum": 3, "type": "quantitative", "scale": {"domain": [3, 20], "nice": false, "zero": false},
       "axis": {"title": "Longitud total (cm)", "values": [3,3.5,4,4.5,5,5.5,6,6.5,7,7.5,8,8.5,9,9.5,10,10.5,11,11.5,12,12.5,13,13.5,14,14.5,15,15.5,16,16.5,17,17.5,18,18.5,19,19.5,20], "labelExpr": "datum.value % 1 === 0 ? format(datum.value, 'd') : ''", "labelOverlap": false}},
     "x2": {"datum": 20},
     "y": {"datum": 0, "type": "quantitative", "scale": {"domain": [0, 9.84], "nice": false, "zero": false},
       "axis": {"title": null, "grid": true, "values": [1,2,3,4,5,6,7,8], "gridColor": "#777777", "gridDash": [1, 2], "gridWidth": 1, "labels": false, "ticks": false, "domain": false}},
     "y2": {"datum": 9}
    }
   },
   {
    "data": {"values": [{}]},
    "mark": {"type": "rule", "stroke": "#ff0000", "strokeWidth": 1.5},
    "encoding": {
     "x": {"datum": 12.03, "type": "quantitative", "scale": {"domain": [3, 20], "nice": false, "zero": false},
       "axis": {"title": "Longitud total (cm)", "values": [3,3.5,4,4.5,5,5.5,6,6.5,7,7.5,8,8.5,9,9.5,10,10.5,11,11.5,12,12.5,13,13.5,14,14.5,15,15.5,16,16.5,17,17.5,18,18.5,19,19.5,20], "labelExpr": "datum.value % 1 === 0 ? format(datum.value, 'd') : ''", "labelOverlap": false}},
     "y": {"datum": 0, "type": "quantitative", "scale": {"domain": [0, 9.84], "nice": false, "zero": false},
       "axis": {"title": null, "grid": true, "values": [1,2,3,4,5,6,7,8], "gridColor": "#777777", "gridDash": [1, 2], "gridWidth": 1, "labels": false, "ticks": false, "domain": false}},
     "y2": {"datum": 9}
    }
   },
   {
    "data": {"name": "RL"},
    "mark": {"type": "text", "fontSize": 16, "baseline": "middle", "align": "center", "dy": -25, "color": "#000000"},
    "encoding": {
     "x": {"datum": 4.45, "type": "quantitative", "scale": {"domain": [3, 20], "nice": false, "zero": false},
       "axis": {"title": "Longitud total (cm)", "values": [3,3.5,4,4.5,5,5.5,6,6.5,7,7.5,8,8.5,9,9.5,10,10.5,11,11.5,12,12.5,13,13.5,14,14.5,15,15.5,16,16.5,17,17.5,18,18.5,19,19.5,20], "labelExpr": "datum.value % 1 === 0 ? format(datum.value, 'd') : ''", "labelOverlap": false}},
     "y": {"field": "row", "type": "quantitative", "scale": {"domain": [0, 9.84], "nice": false, "zero": false},
       "axis": {"title": null, "grid": true, "values": [1,2,3,4,5,6,7,8], "gridColor": "#777777", "gridDash": [1, 2], "gridWidth": 1, "labels": false, "ticks": false, "domain": false}},
     "text": {"field": "lab"}
    }
   },
   {
    "data": {"name": "RL"},
    "mark": {"type": "text", "fontSize": 16, "baseline": "middle", "align": "center", "dy": -25, "color": "#000000"},
    "encoding": {
     "x": {"datum": 18.9, "type": "quantitative", "scale": {"domain": [3, 20], "nice": false, "zero": false},
       "axis": {"title": "Longitud total (cm)", "values": [3,3.5,4,4.5,5,5.5,6,6.5,7,7.5,8,8.5,9,9.5,10,10.5,11,11.5,12,12.5,13,13.5,14,14.5,15,15.5,16,16.5,17,17.5,18,18.5,19,19.5,20], "labelExpr": "datum.value % 1 === 0 ? format(datum.value, 'd') : ''", "labelOverlap": false}},
     "y": {"field": "row", "type": "quantitative", "scale": {"domain": [0, 9.84], "nice": false, "zero": false},
       "axis": {"title": null, "grid": true, "values": [1,2,3,4,5,6,7,8], "gridColor": "#777777", "gridDash": [1, 2], "gridWidth": 1, "labels": false, "ticks": false, "domain": false}},
     "text": {"field": "juv"}
    }
   },
   {
    "data": {"values": [{}]},
    "mark": {"type": "text", "text": "Dist.Costa", "fontSize": 17, "fontWeight": "bold", "baseline": "middle", "align": "center", "color": "#000000"},
    "encoding": {
     "x": {"datum": 4.47, "type": "quantitative", "scale": {"domain": [3, 20], "nice": false, "zero": false},
       "axis": {"title": "Longitud total (cm)", "values": [3,3.5,4,4.5,5,5.5,6,6.5,7,7.5,8,8.5,9,9.5,10,10.5,11,11.5,12,12.5,13,13.5,14,14.5,15,15.5,16,16.5,17,17.5,18,18.5,19,19.5,20], "labelExpr": "datum.value % 1 === 0 ? format(datum.value, 'd') : ''", "labelOverlap": false}},
     "y": {"datum": 8.52, "type": "quantitative", "scale": {"domain": [0, 9.84], "nice": false, "zero": false},
       "axis": {"title": null, "grid": true, "values": [1,2,3,4,5,6,7,8], "gridColor": "#777777", "gridDash": [1, 2], "gridWidth": 1, "labels": false, "ticks": false, "domain": false}}
    }
   },
   {
    "data": {"values": [{}]},
    "mark": {"type": "text", "text": "Juveniles", "fontSize": 17, "fontWeight": "bold", "baseline": "middle", "align": "center", "color": "#000000"},
    "encoding": {
     "x": {"datum": 18.5, "type": "quantitative", "scale": {"domain": [3, 20], "nice": false, "zero": false},
       "axis": {"title": "Longitud total (cm)", "values": [3,3.5,4,4.5,5,5.5,6,6.5,7,7.5,8,8.5,9,9.5,10,10.5,11,11.5,12,12.5,13,13.5,14,14.5,15,15.5,16,16.5,17,17.5,18,18.5,19,19.5,20], "labelExpr": "datum.value % 1 === 0 ? format(datum.value, 'd') : ''", "labelOverlap": false}},
     "y": {"datum": 8.41, "type": "quantitative", "scale": {"domain": [0, 9.84], "nice": false, "zero": false},
       "axis": {"title": null, "grid": true, "values": [1,2,3,4,5,6,7,8], "gridColor": "#777777", "gridDash": [1, 2], "gridWidth": 1, "labels": false, "ticks": false, "domain": false}}
    }
   }
  ]
 }
]
}
